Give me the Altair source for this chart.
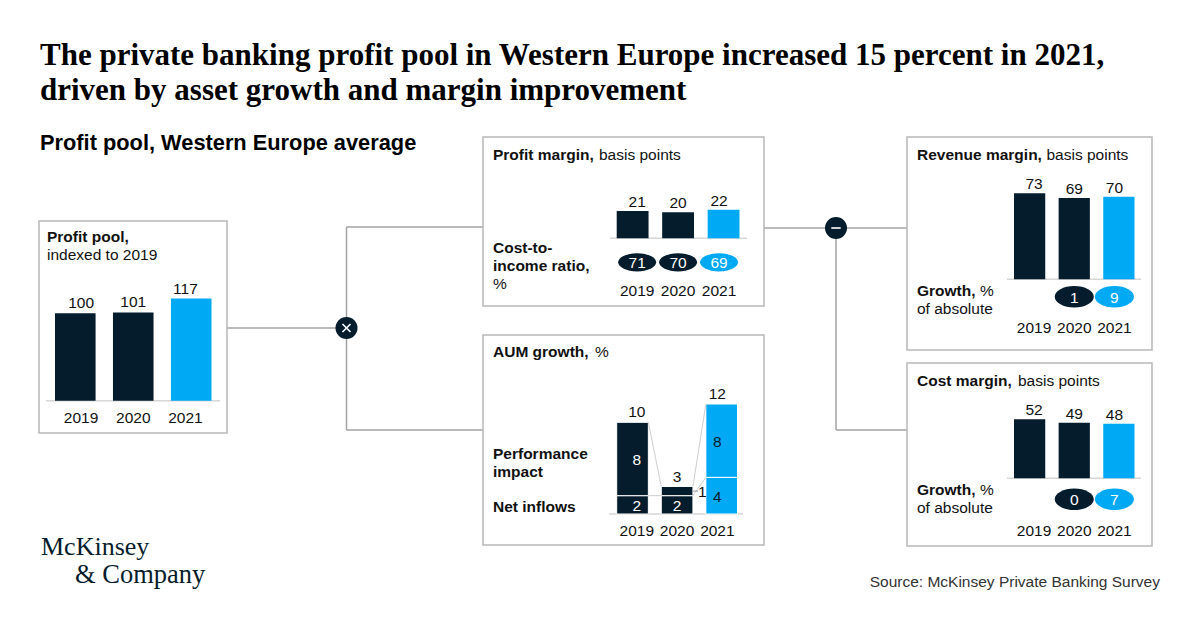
import altair as alt
import pandas as pd

NAVY = "#051C2C"
BLUE = "#00A9F4"
BOX = "#B8B8B8"
LINE = "#A3A3A3"
AXIS = "#D6D6D6"
TXT = "#111111"
SANS = "Liberation Sans"
SERIF = "Liberation Serif"
FS = 15.5

# ---------------- data ----------------
years = ["2019", "2020", "2021"]
profit_pool = [100, 101, 117]
profit_margin = [21, 20, 22]
cost_income_ratio = [71, 70, 69]
aum_net_inflows = [2, 2, 4]
aum_performance = [8, 1, 8]
aum_total = [10, 3, 12]
revenue_margin = [73, 69, 70]
revenue_growth = [None, 1, 9]
cost_margin = [52, 49, 48]
cost_growth = [None, 0, 7]

color_scale = alt.Scale(domain=years, range=[NAVY, NAVY, BLUE])
COLOR = alt.Color("year:N", scale=color_scale, legend=None)

layers = []


def xs(rng, pad=0.3):
    return alt.Scale(domain=years, range=rng, paddingInner=pad, paddingOuter=0)


def ys(domain, rng):
    return alt.Scale(domain=domain, range=rng, nice=False, zero=True)


def text(t, x, y, bold=False, size=FS, font=SANS, color=TXT, align="left"):
    layers.append(
        alt.Chart(pd.DataFrame({"a": [0]}))
        .mark_text(font=font, fontSize=size, fontWeight="bold" if bold else "normal",
                   color=color, align=align, baseline="alphabetic")
        .encode(x=alt.value(x), y=alt.value(y), text=alt.value(t))
    )


def hline(x1, x2, y, color=LINE, w=1.5):
    layers.append(
        alt.Chart(pd.DataFrame({"a": [0]}))
        .mark_rule(color=color, strokeWidth=w)
        .encode(x=alt.value(x1), x2=alt.value(x2), y=alt.value(y))
    )


def vline(x, y1, y2, color=LINE, w=1.5):
    layers.append(
        alt.Chart(pd.DataFrame({"a": [0]}))
        .mark_rule(color=color, strokeWidth=w)
        .encode(x=alt.value(x), y=alt.value(y1), y2=alt.value(y2))
    )


def box(x1, y1, x2, y2):
    layers.append(
        alt.Chart(pd.DataFrame({"a": [0]}))
        .mark_rect(fill="white", stroke=BOX, strokeWidth=1.5)
        .encode(x=alt.value(x1), x2=alt.value(x2), y=alt.value(y1), y2=alt.value(y2))
    )


def ellipse_path(ry):
    k = 0.5523
    c = round(k * ry, 3)
    return (f"M-1,0C-1,{-c},{-k},{-ry},0,{-ry}C{k},{-ry},1,{-c},1,0"
            f"C1,{c},{k},{ry},0,{ry}C{-k},{ry},-1,{c},-1,0Z")


def bar_panel(values, xr, yd, yr, year_y, dy=-5):
    df = pd.DataFrame({"year": years, "v": values})
    X = alt.X("year:N", scale=xs(xr), axis=None)
    XT = alt.X("year:N", scale=xs(xr), axis=None, bandPosition=0.5)
    Y = alt.Y("v:Q", scale=ys(yd, yr), axis=None)
    layers.append(alt.Chart(df).mark_bar().encode(x=X, y=Y, color=COLOR))
    layers.append(
        alt.Chart(df).mark_text(font=SANS, fontSize=FS, color=TXT, dy=dy, baseline="alphabetic")
        .encode(x=XT, y=Y, text="v:Q")
    )
    layers.append(
        alt.Chart(df).mark_text(font=SANS, fontSize=FS, color=TXT, baseline="alphabetic")
        .encode(x=XT, y=alt.value(year_y), text="year:N")
    )


def pills(values, xr, y, ry, width=38):
    df = pd.DataFrame({"year": years, "v": values}).dropna()
    XT = alt.X("year:N", scale=xs(xr), axis=None, bandPosition=0.5)
    layers.append(
        alt.Chart(df).mark_point(shape=ellipse_path(ry), size=width * width, filled=True, opacity=1)
        .encode(x=XT, y=alt.value(y), color=COLOR)
    )
    layers.append(
        alt.Chart(df).mark_text(font=SANS, fontSize=FS, color="white", baseline="middle", dy=1)
        .encode(x=XT, y=alt.value(y), text=alt.Text("v:Q", format="d"))
    )


# ---------------- connectors ----------------
hline(227, 346.5, 328)
vline(346.5, 227, 430)
hline(346.5, 483, 227)
hline(346.5, 483, 430)
hline(764, 907, 228)
vline(836, 228, 430)
hline(836, 907, 430)

# ---------------- boxes ----------------
box(39, 221, 227, 433)
box(483, 137, 764, 306)
box(483, 335, 764, 545)
box(907, 137, 1152, 350)
box(907, 363, 1152, 546)

# ---------------- operator circles ----------------
for cx, cy, shape in [(346.5, 328, "M-1,-1L1,1M1,-1L-1,1"), (836, 228, "M-1,0L1,0")]:
    layers.append(
        alt.Chart(pd.DataFrame({"a": [0]}))
        .mark_point(shape="circle", size=484, filled=True, color=NAVY, opacity=1)
        .encode(x=alt.value(cx), y=alt.value(cy))
    )
    layers.append(
        alt.Chart(pd.DataFrame({"a": [0]}))
        .mark_point(shape=shape, size=64 if "M-1,-1" in shape else 90, filled=False,
                    stroke="white", strokeWidth=1.6, opacity=1)
        .encode(x=alt.value(cx), y=alt.value(cy))
    )

# ---------------- profit pool ----------------
hline(46, 220, 400.7, AXIS, 1.5)
bar_panel(profit_pool, [55, 211.5], [0, 117], [400.7, 298.5], 423)
text("Profit pool,", 47, 242, bold=True)
text("indexed to 2019", 47, 260)

# ---------------- profit margin ----------------
hline(610, 747, 238.3, AXIS, 1.5)
bar_panel(profit_margin, [616.7, 739.5], [0, 22], [238.3, 209.7], 296, dy=-4)
pills(cost_income_ratio, [616.7, 739.5], 262.3, 0.48)
text("Profit margin,", 493, 160, bold=True)
text("basis points", 599, 160)
text("Cost-to-", 493, 253, bold=True)
text("income ratio,", 493, 271, bold=True)
text("%", 493, 289)

# ---------------- AUM growth ----------------
AUM_X = xs([616.7, 737.5], 0.29)
AUM_Y = ys([0, 12], [514, 404])
hline(609, 743, 514, AXIS, 1.5)
aum_long = pd.DataFrame({
    "year": years * 2,
    "segment": ["Net inflows"] * 3 + ["Performance impact"] * 3,
    "value": aum_net_inflows + aum_performance,
})
layers.append(
    alt.Chart(aum_long).mark_bar(stroke="white", strokeWidth=1)
    .encode(x=alt.X("year:N", scale=AUM_X, axis=None),
            y=alt.Y("value:Q", stack="zero", scale=AUM_Y, axis=None),
            color=COLOR,
            order=alt.Order("segment:N", sort="ascending"))
)
conn = pd.DataFrame({
    "from_year": years[:2] * 2,
    "to_year": years[1:] * 2,
    "from_val": aum_total[:2] + aum_net_inflows[:2],
    "to_val": aum_total[1:] + aum_net_inflows[1:],
})
layers.append(
    alt.Chart(conn).mark_rule(color="#CFCFCF", strokeWidth=1)
    .encode(x=alt.X("from_year:N", scale=AUM_X, axis=None, bandPosition=1),
            x2=alt.X2("to_year", bandPosition=0),
            y=alt.Y("from_val:Q", scale=AUM_Y, axis=None),
            y2=alt.Y2("to_val"))
)
seg = (
    alt.Chart(aum_long)
    .transform_stack(stack="value", as_=["v0", "v1"], groupby=["year"],
                     sort=[alt.SortField("segment", order="ascending")])
    .transform_calculate(mid="(datum.v0 + datum.v1) / 2")
)
layers.append(
    seg.transform_filter("datum.value >= 2")
    .mark_text(font=SANS, fontSize=FS, baseline="middle", dy=1)
    .encode(x=alt.X("year:N", scale=AUM_X, axis=None, bandPosition=0.5),
            y=alt.Y("mid:Q", scale=AUM_Y, axis=None),
            text="value:Q",
            color=alt.condition("datum.year == '2021'", alt.value(NAVY), alt.value("white")))
)
# small value shown beside its bar, with a short leader
layers.append(
    seg.transform_filter("datum.value < 2")
    .mark_rule(color="#9A9A9A", strokeWidth=1, xOffset=16, x2Offset=21)
    .encode(x=alt.X("year:N", scale=AUM_X, axis=None, bandPosition=0.5),
            x2=alt.X2("year"),
            y=alt.Y("mid:Q", scale=AUM_Y, axis=None))
)
layers.append(
    seg.transform_filter("datum.value < 2")
    .mark_text(font=SANS, fontSize=FS, baseline="middle", align="left", color=TXT, dx=21, dy=1)
    .encode(x=alt.X("year:N", scale=AUM_X, axis=None, bandPosition=0.5),
            y=alt.Y("mid:Q", scale=AUM_Y, axis=None),
            text="value:Q")
)
aum_tot = pd.DataFrame({"year": years, "v": aum_total})
layers.append(
    alt.Chart(aum_tot).mark_text(font=SANS, fontSize=FS, color=TXT, dy=-5, baseline="alphabetic")
    .encode(x=alt.X("year:N", scale=AUM_X, axis=None, bandPosition=0.5),
            y=alt.Y("v:Q", scale=AUM_Y, axis=None), text="v:Q")
)
layers.append(
    alt.Chart(aum_tot).mark_text(font=SANS, fontSize=FS, color=TXT, baseline="alphabetic")
    .encode(x=alt.X("year:N", scale=AUM_X, axis=None, bandPosition=0.5),
            y=alt.value(535.7), text="year:N")
)
text("AUM growth,", 493, 357, bold=True)
text("%", 595, 357)
text("Performance", 493, 459, bold=True)
text("impact", 493, 477, bold=True)
text("Net inflows", 493, 511.5, bold=True)

# ---------------- revenue margin ----------------
hline(1007, 1141, 279.3, AXIS, 1.5)
bar_panel(revenue_margin, [1014, 1134.5], [0, 73], [279.3, 193.3], 333, dy=-4)
pills(revenue_growth, [1014, 1134.5], 296.7, 0.55, 39)
text("Revenue margin,", 917, 160, bold=True)
text("basis points", 1046.5, 160)
text("Growth,", 917, 296, bold=True)
text("%", 980, 296)
text("of absolute", 917, 314)

# ---------------- cost margin ----------------
hline(1007, 1141, 478.3, AXIS, 1.5)
bar_panel(cost_margin, [1014, 1134.5], [0, 52], [478.3, 419.3], 535.7, dy=-4)
pills(cost_growth, [1014, 1134.5], 499.3, 0.55, 39)
text("Cost margin,", 917, 386, bold=True)
text("basis points", 1018, 386)
text("Growth,", 917, 494.5, bold=True)
text("%", 980, 494.5)
text("of absolute", 917, 512.5)

# ---------------- titles, source, logo ----------------
text("The private banking profit pool in Western Europe increased 15 percent in 2021,",
     40, 65, bold=True, size=31, font=SERIF, color="#000000")
text("driven by asset growth and margin improvement", 40, 100, bold=True, size=31,
     font=SERIF, color="#000000")
text("Profit pool, Western Europe average", 40, 150, bold=True, size=21.8, color="#000000")
text("Source: McKinsey Private Banking Survey", 1160, 587, size=15.5, color="#333333", align="right")
text("McKinsey", 41, 555, size=26, font=SERIF, color=NAVY)
text("& Company", 75, 583, size=26.5, font=SERIF, color=NAVY)

chart = (
    alt.layer(*layers)
    .resolve_scale(x="independent", y="independent")
    .properties(width=1200, height=627, autosize="none", padding=0, background="white")
    .configure_view(stroke=None)
)

chart.save("out.html", embed_options={"renderer": "svg", "actions": False})
